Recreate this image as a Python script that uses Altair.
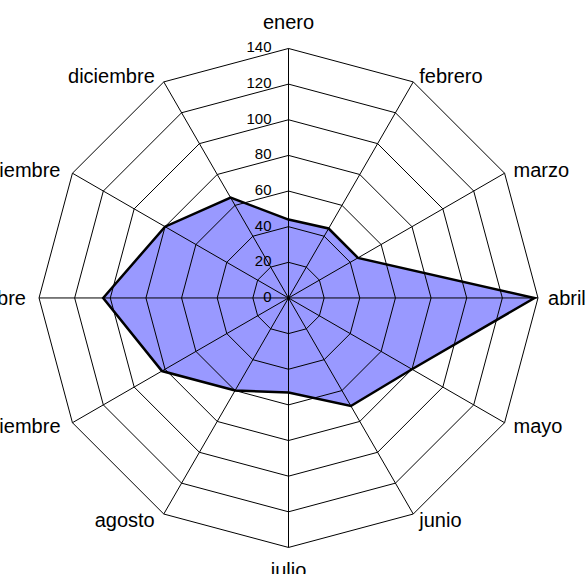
import altair as alt
import pandas as pd

months = ["enero", "febrero", "marzo", "abril", "mayo", "junio",
          "julio", "agosto", "septiembre", "octubre", "noviembre", "diciembre"]
values = [44, 45, 45, 138, 80, 70, 53, 60, 82, 104, 80, 65]
ticks = [0, 20, 40, 60, 80, 100, 120, 140]
RMAX = 140
N = len(months)

# data polygon (closed)
series = pd.DataFrame({"month": months + [months[0]],
                       "value": values + [values[0]],
                       "idx": list(range(N)) + [N]})
# grid polygons
grid = pd.DataFrame([{"level": t, "idx": i} for t in ticks[1:] for i in range(N + 1)])
# spokes and labels
spokes = pd.DataFrame({"month": months, "idx": list(range(N))})
tickdf = pd.DataFrame({"tick": ticks, "label": [str(t) for t in ticks]})

xs = alt.Scale(domain=[-161.9, 167.5], nice=False, zero=False)
ys = alt.Scale(domain=[-154.9, 167.2], nice=False, zero=False)
ang = f"datum.idx * 2 * PI / {N}"

def X(f):
    return alt.X(f, type="quantitative", scale=xs, axis=None)

def Y(f):
    return alt.Y(f, type="quantitative", scale=ys, axis=None)

fill = alt.Chart(series).transform_calculate(
    px=f"datum.value * sin({ang})", py=f"datum.value * cos({ang})"
).mark_line(fill="#9999FF", stroke=None, strokeWidth=0).encode(
    x=X("px"), y=Y("py"), order="idx:Q")

gridlines = alt.Chart(grid).transform_calculate(
    px=f"datum.level * sin({ang})", py=f"datum.level * cos({ang})"
).mark_line(stroke="black", strokeWidth=1).encode(
    x=X("px"), y=Y("py"), order="idx:Q", detail="level:N")

spk = alt.Chart(spokes).transform_calculate(
    x0="0", y0="0",
    px=f"{RMAX} * sin({ang})", py=f"{RMAX} * cos({ang})"
).mark_rule(stroke="black", strokeWidth=1).encode(
    x=X("x0"), y=Y("y0"), x2="px:Q", y2="py:Q")

outline = alt.Chart(series).transform_calculate(
    px=f"datum.value * sin({ang})", py=f"datum.value * cos({ang})"
).mark_line(stroke="black", strokeWidth=2.5, strokeJoin="miter").encode(
    x=X("px"), y=Y("py"), order="idx:Q")

ticklabels = alt.Chart(tickdf).transform_calculate(x0="0").mark_text(
    align="right", baseline="middle", dx=-17, dy=-1, fontSize=15,
    font="Liberation Sans", color="black"
).encode(x=X("x0"), y=Y("tick"), text="label:N")

lab = alt.Chart(spokes).transform_calculate(
    lx=f"{RMAX + 4.5} * sin({ang})", ly=f"{RMAX + 4} * cos({ang})",
    side="datum.idx == 0 ? 'top' : (datum.idx == 6 ? 'bottom' : (datum.idx < 6 ? 'right' : 'left'))"
)

def labels(side, align, dx, dy):
    return lab.transform_filter(f"datum.side == '{side}'").mark_text(
        align=align, baseline="alphabetic", dx=dx, dy=dy, fontSize=20,
        font="Liberation Sans", color="black"
    ).encode(x=X("lx"), y=Y("ly"), text="month:N")

chart = alt.layer(
    fill, gridlines, spk, outline, ticklabels,
    labels("right", "left", 2, 7),
    labels("left", "right", -5, 7),
    labels("top", "center", 0, -12),
    labels("bottom", "center", 0, 22),
).properties(
    width=587, height=574, padding=0,
    autosize=alt.AutoSizeParams(type="none")
).configure_view(stroke=None)

chart.save("out.html", embed_options={"renderer": "svg", "actions": False})
